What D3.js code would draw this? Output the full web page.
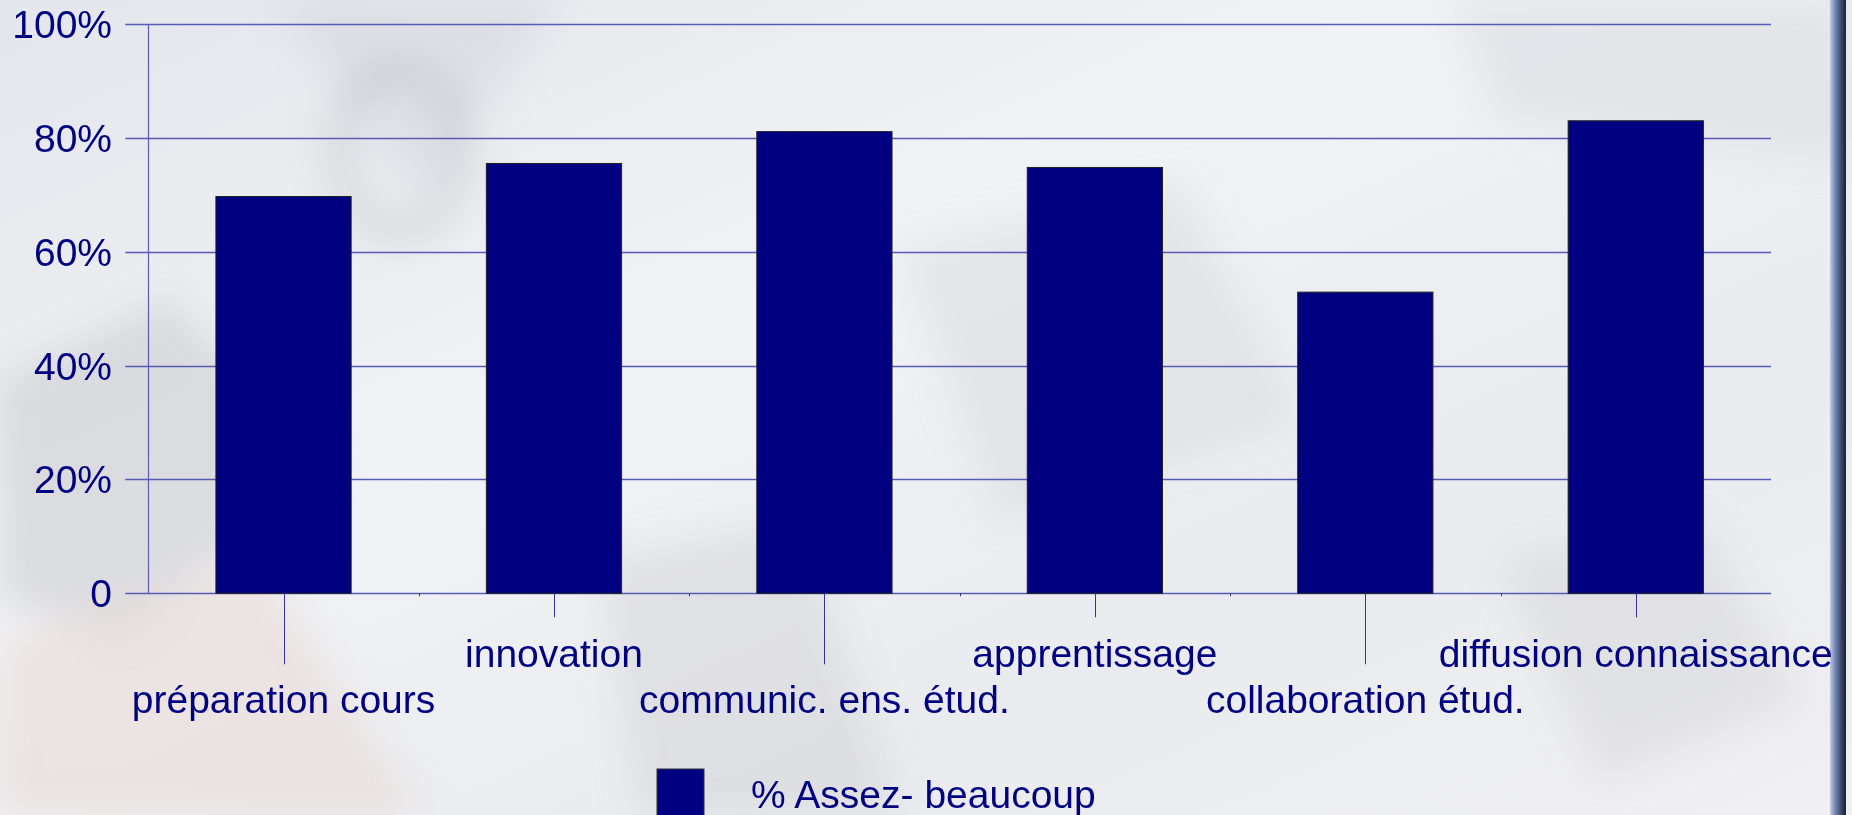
<!DOCTYPE html>
<html>
<head>
<meta charset="utf-8">
<script src="https://cdn.jsdelivr.net/npm/d3@7"></script>
<style>
  html, body { margin: 0; padding: 0; overflow: hidden; background: #eceef2; }
  svg { display: block; }
  text { font-family: "Liberation Sans", Arial, sans-serif; fill: #000080; }
</style>
</head>
<body>
<svg id="chart" width="1852" height="815"></svg>
<script>
// Chart data
const categories = ['préparation cours', 'innovation', 'communic. ens. étud.', 'apprentissage', 'collaboration étud.', 'diffusion connaissance']
const values = [69.7, 75.5, 81.1, 74.8, 52.9, 83.0]
const yTicks = [0, 20, 40, 60, 80, 100]
const yTickLabels = ['0', '20%', '40%', '60%', '80%', '100%']
const seriesName = '% Assez- beaucoup'

const W = 1852, H = 815
const svg = d3.select('#chart')
const defs = svg.append('defs')

// Background: soft pale gradient with a few blurred shapes
const bg = defs.append('linearGradient').attr('id', 'bgGrad')
    .attr('x1', '0').attr('y1', '0').attr('x2', '1').attr('y2', '1')
bg.append('stop').attr('offset', '0%').attr('stop-color', '#e3e6eb')
bg.append('stop').attr('offset', '40%').attr('stop-color', '#f1f2f5')
bg.append('stop').attr('offset', '70%').attr('stop-color', '#eaebee')
bg.append('stop').attr('offset', '100%').attr('stop-color', '#f0f0f2')

defs.append('filter').attr('id', 'blur').attr('x', '-50%').attr('y', '-50%').attr('width', '200%').attr('height', '200%')
    .append('feGaussianBlur').attr('stdDeviation', 18)

const border = defs.append('linearGradient').attr('id', 'borderGrad')
border.append('stop').attr('offset', '0%').attr('stop-color', '#c3cbe0')
border.append('stop').attr('offset', '35%').attr('stop-color', '#7082b4')
border.append('stop').attr('offset', '75%').attr('stop-color', '#34405c')
border.append('stop').attr('offset', '100%').attr('stop-color', '#1c2230')

svg.append('rect').attr('width', W).attr('height', H).attr('fill', 'url(#bgGrad)')

const shapes = svg.append('g').attr('filter', 'url(#blur)')
shapes.append('path').attr('d', 'M0,380 L170,300 L330,470 L120,640 L0,600 Z').attr('fill', '#b8b8be').attr('opacity', 0.35)
shapes.append('path').attr('d', 'M0,640 L260,560 L420,815 L0,815 Z').attr('fill', '#e8d8d2').attr('opacity', 0.5)
shapes.append('path').attr('d', 'M280,0 L560,0 L420,200 Z').attr('fill', '#c8ccd4').attr('opacity', 0.35)
shapes.append('path').attr('d', 'M900,250 L1180,180 L1300,420 L1000,520 Z').attr('fill', '#c9ccd2').attr('opacity', 0.3)
shapes.append('path').attr('d', 'M1450,0 L1852,0 L1852,160 L1500,120 Z').attr('fill', '#dcdde2').attr('opacity', 0.6)
shapes.append('path').attr('d', 'M1500,560 L1700,520 L1800,700 L1600,780 Z').attr('fill', '#c8c8cc').attr('opacity', 0.3)
shapes.append('ellipse').attr('cx', 400).attr('cy', 150).attr('rx', 60).attr('ry', 80).attr('fill', 'none')
    .attr('stroke', '#a8a8b0').attr('stroke-width', 22).attr('opacity', 0.35)
shapes.append('path').attr('d', 'M600,560 L800,520 L900,815 L640,815 Z').attr('fill', '#c4c4c8').attr('opacity', 0.3)

// Right frame border
svg.append('rect').attr('x', 1830).attr('y', 0).attr('width', 16).attr('height', H).attr('fill', 'url(#borderGrad)')

// Scales
const x = d3.scaleBand().domain(categories).range([148.3, 1771]).paddingInner(0.5).paddingOuter(0.25)
const y = d3.scaleLinear().domain([0, 100]).range([593.3, 24])
const step = x.step()
const x0 = x.range()[0], x1 = x.range()[1]

const gridColor = '#5a5ab4'

// Gridlines (extend left as ticks)
svg.append('g').selectAll('line').data(yTicks).join('line')
    .attr('x1', x0 - 23).attr('x2', x1)
    .attr('y1', d => Math.round(y(d)) + 0.5).attr('y2', d => Math.round(y(d)) + 0.5)
    .attr('stroke', gridColor).attr('stroke-width', 1.3)

// Y axis line
svg.append('line').attr('x1', Math.round(x0) + 0.5).attr('x2', Math.round(x0) + 0.5)
    .attr('y1', y(100)).attr('y2', y(0))
    .attr('stroke', gridColor).attr('stroke-width', 1.2)

// Y tick labels
svg.append('g').selectAll('text').data(yTicks).join('text')
    .attr('x', 112).attr('y', d => y(d)).attr('dy', '0.36em')
    .attr('text-anchor', 'end').attr('font-size', 39)
    .text((d, i) => yTickLabels[i])

// Bars
svg.append('g').selectAll('rect').data(values).join('rect')
    .attr('x', (d, i) => x(categories[i]))
    .attr('y', d => y(d))
    .attr('width', x.bandwidth())
    .attr('height', d => y(0) - y(d))
    .attr('fill', '#000080')
    .attr('stroke', '#202020').attr('stroke-width', 1)

// X axis ticks: long/short alternated at category centres, small ones on band boundaries
const xTicks = svg.append('g')
xTicks.selectAll('line.cat').data(categories).join('line').attr('class', 'cat')
    .attr('x1', d => Math.round(x(d) + x.bandwidth() / 2) + 0.5)
    .attr('x2', d => Math.round(x(d) + x.bandwidth() / 2) + 0.5)
    .attr('y1', y(0)).attr('y2', (d, i) => y(0) + (i % 2 === 0 ? 71 : 24))
    .attr('stroke', '#33339a').attr('stroke-width', 1)
xTicks.selectAll('line.edge').data(d3.range(1, categories.length)).join('line').attr('class', 'edge')
    .attr('x1', k => Math.round(x0 + k * step) + 0.5).attr('x2', k => Math.round(x0 + k * step) + 0.5)
    .attr('y1', y(0)).attr('y2', y(0) + 3)
    .attr('stroke', '#33339a').attr('stroke-width', 1)

// X labels, staggered on two rows
svg.append('g').selectAll('text').data(categories).join('text')
    .attr('x', d => x(d) + x.bandwidth() / 2)
    .attr('y', (d, i) => i % 2 === 0 ? 713 : 667)
    .attr('text-anchor', 'middle').attr('font-size', 39)
    .text(d => d)

// Legend
const legend = svg.append('g')
legend.append('rect').attr('x', 657).attr('y', 769).attr('width', 47).attr('height', 47)
    .attr('fill', '#000080').attr('stroke', '#333').attr('stroke-width', 1)
legend.append('text').attr('x', 751).attr('y', 808).attr('font-size', 39).text(seriesName)
</script>
</body>
</html>
